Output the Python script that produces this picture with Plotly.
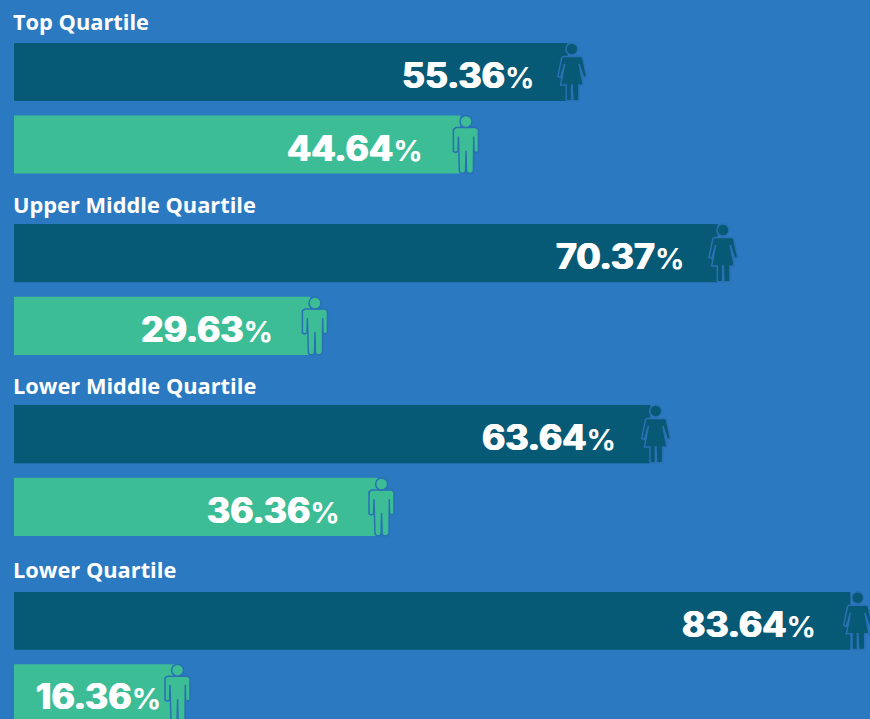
import plotly.graph_objects as go

quartiles = ["Top Quartile", "Upper Middle Quartile", "Lower Middle Quartile", "Lower Quartile"]
genders = ["Women", "Men"]
women = [55.36, 70.37, 63.64, 83.64]
men = [44.64, 29.63, 36.36, 16.36]

W, H = 870, 719
BG, DARK, GREEN, EDGE = "#2b79c1", "#065a75", "#3dbd96", "#2a70b4"
centers = [(72, 144.5), (253, 326), (434, 507), (621, 693)]
label_y = [21, 205, 385, 569]
STEP = 72.7
icon_nudge = [(-1, 1.6), (0, 0.7), (0, 0), (2, -4)]

WOMAN = [(-3.5,-15.5),(14.5,-15.5),(16,-14),(20,4.5),(17,5.5),(12.5,-8),(16.6,13),(12.3,13),(12.3,28.7),(6.2,28.7),(5.6,13),(5,13),(5,28.7),(-0.4,28.7),(-0.4,13),(-6,13),(-2,-8),(-6,5.5),(-8.7,4.5),(-5,-14)]
MAN = [(-6,-17),(14,-17),(16.4,-15),(16.4,7),(14.5,8),(12,7),(11.7,-8),(11.4,27),(9.5,28.7),(6,28.7),(4.5,27),(4,6),(3.5,27),(2,28.7),(-1,28.7),(-2.6,27),(-3.6,-8),(-4,7),(-6.5,8),(-8.6,7),(-8.6,-15)]


def path(points, dx):
    return "M" + "L".join(f"{x + dx},{-y}" for x, y in points) + "Z"


fig = go.Figure()
shapes, annotations = [], []
for i, q in enumerate(quartiles):
    n = "" if i == 0 else str(i + 1)
    top = centers[i][0] - STEP / 2
    bottom = min(centers[i][1] + STEP / 2, H)
    lo = 1 + (bottom - centers[i][1]) / STEP
    vals = [women[i], men[i]]
    fig.add_trace(go.Bar(x=vals, y=genders, orientation="h", marker=dict(color=[DARK, GREEN], line_width=0),
                         xaxis="x" + n, yaxis="y" + n, showlegend=False, hoverinfo="x+y"))
    fig.update_layout({
        "xaxis" + n: dict(domain=[0, 1], range=[-1.4, 85.6], visible=False, anchor="y" + n, fixedrange=True),
        "yaxis" + n: dict(domain=[1 - bottom / H, 1 - top / H], range=[lo, -0.5], visible=False,
                          type="category", categoryorder="array", categoryarray=genders,
                          anchor="x" + n, fixedrange=True),
    })
    annotations.append(dict(text=f"<b>{q}</b>", xref="paper", yref="paper", x=14 / W, y=1 - label_y[i] / H,
                            xanchor="left", yanchor="middle", showarrow=False, xshift=-3,
                            font=dict(family="Open Sans", size=21.8, color="white")))
    for j, v in enumerate(vals):
        fill = DARK if j == 0 else GREEN
        body = WOMAN if j == 0 else MAN
        dx = icon_nudge[i][j]
        hx, hy = (5.3 + dx, -23) if j == 0 else (4 + dx, -23)
        common = dict(xref="x" + n, yref="y" + n, xsizemode="pixel", ysizemode="pixel",
                      xanchor=v, yanchor=j, fillcolor=fill, line=dict(color=EDGE, width=1.5), layer="above")
        shapes.append(dict(type="path", path=path(body, dx), **common))
        shapes.append(dict(type="circle", x0=hx - 6, x1=hx + 6, y0=-hy - 6, y1=-hy + 6, **common))
        shift = -32 if j == 0 else (-15 if v < 20 else -35.5)
        annotations.append(dict(
            text=f"<b>{v:.2f}</b><span style='font-size:29px;font-weight:700;text-shadow:none'>%</span>",
            xref="x" + n, yref="y" + n, x=v, y=j,
            xanchor="right", yanchor="middle", xshift=shift, yshift=-3, showarrow=False,
            font=dict(family="Inter", size=36, color="white", weight=800,
                      shadow="0.8px 0 0 #fff,-0.8px 0 0 #fff")))

fig.update_layout(width=W, height=H, margin=dict(l=0, r=0, t=0, b=0), paper_bgcolor=BG, plot_bgcolor=BG,
                  bargap=0.2, shapes=shapes, annotations=annotations)
fig.write_html("out.html", config={"displayModeBar": False},
               post_script="document.body.style.margin='0';document.documentElement.style.overflow='hidden';")
